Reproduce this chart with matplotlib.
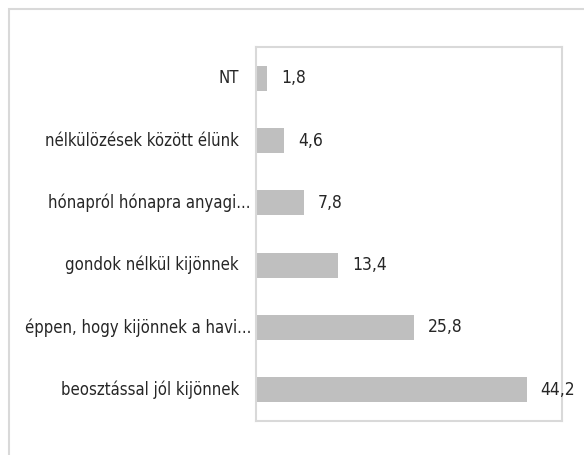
import matplotlib.pyplot as plt
from matplotlib.patches import Rectangle
from matplotlib.transforms import offset_copy, blended_transform_factory

# Data
categories = [
    "NT",
    "nélkülözések között élünk",
    "hónapról hónapra anyagi...",
    "gondok nélkül kijönnek",
    "éppen, hogy kijönnek a havi...",
    "beosztással jól kijönnek",
]
values = [1.8, 4.6, 7.8, 13.4, 25.8, 44.2]

plt.rcParams['font.family'] = ['DejaVu Sans']
plt.rcParams['font.stretch'] = 'condensed'

fig = plt.figure(figsize=(5.84, 4.55), dpi=100)

# outer chart frame
fig.patches.append(Rectangle((9 / 584, -0.05), 1.0, 1 - 9 / 455 + 0.05, transform=fig.transFigure,
                             fill=False, edgecolor='#D9D9D9', linewidth=1.5))

ax = fig.add_axes([256 / 584, 34 / 455, 306 / 584, 374 / 455])
pos = list(range(len(categories)))
bars = ax.barh(pos, values, height=0.4, color='#BFBFBF')
ax.set_ylim(len(categories) - 0.5, -0.5)
ax.set_xlim(0, 50)
ax.set_xticks([])
ax.set_yticks([])
for s in ax.spines.values():
    s.set_color('#D9D9D9')
    s.set_linewidth(1.5)

# category labels (truncated ones sit a bit closer to the axis, like excel does)
base = blended_transform_factory(ax.transAxes, ax.transData)
for p, cat in zip(pos, categories):
    shift = -5 if cat.endswith('...') else -17
    tr = offset_copy(base, fig=fig, x=shift, y=0, units='dots')
    ax.text(0, p, cat, transform=tr, ha='right', va='center',
            fontsize=12, color='#262626', clip_on=False)

ax.bar_label(bars, labels=[f"{v:.1f}".replace('.', ',') for v in values],
             padding=10, fontsize=12.5, color='#262626')

plt.savefig('out.png', dpi=100)
